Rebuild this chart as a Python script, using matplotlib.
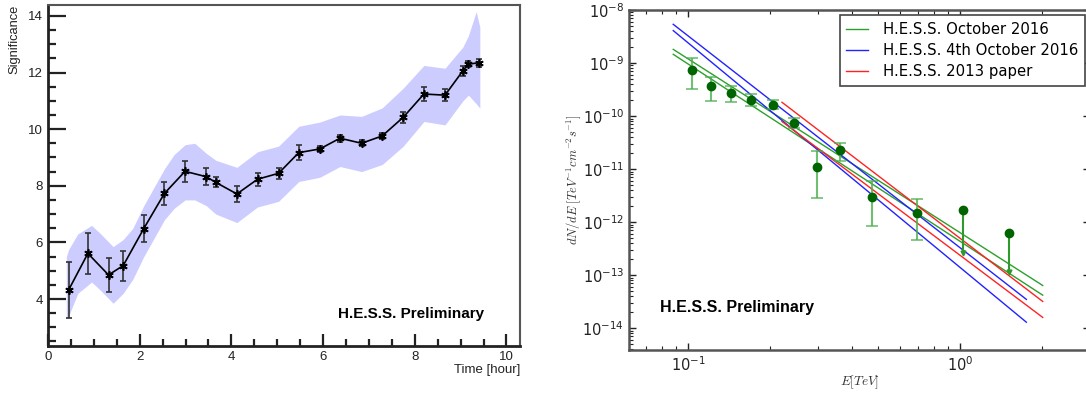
import matplotlib
matplotlib.use('Agg')
import matplotlib.pyplot as plt
from matplotlib.ticker import MultipleLocator, LogLocator, NullFormatter
import numpy as np

# ---- left panel: significance vs time ----
t_hour = [0.45, 0.87, 1.32, 1.64, 2.09, 2.54, 2.99, 3.45, 3.66, 4.12, 4.57, 5.03,
          5.47, 5.93, 6.37, 6.84, 7.29, 7.75, 8.20, 8.66, 9.05, 9.17, 9.40]
signif = [4.32, 5.61, 4.85, 5.18, 6.49, 7.73, 8.51, 8.32, 8.12, 7.71, 8.23, 8.44,
          9.17, 9.30, 9.68, 9.50, 9.76, 10.42, 11.24, 11.20, 12.06, 12.29, 12.35]
signif_err = [1.0, 0.73, 0.6, 0.53, 0.46, 0.42, 0.38, 0.29, 0.18, 0.29, 0.23, 0.2,
              0.26, 0.1, 0.12, 0.1, 0.12, 0.2, 0.25, 0.22, 0.18, 0.1, 0.14]

# shaded band edges
band_t = [0.40, 0.45, 0.65, 0.95, 1.15, 1.42, 1.64, 1.85, 2.09, 2.54, 2.75, 2.99, 3.2,
          3.45, 3.66, 4.12, 4.57, 5.03, 5.47, 5.93, 6.37, 6.84, 7.29, 7.75, 8.20,
          8.66, 9.05, 9.17, 9.34, 9.42]
band_hi = [5.5, 5.75, 6.3, 6.6, 6.3, 5.85, 6.1, 6.5, 7.3, 8.6, 9.1, 9.45, 9.5,
           9.15, 8.9, 8.65, 9.2, 9.4, 10.1, 10.25, 10.5, 10.45, 10.75, 11.45, 12.25,
           12.15, 12.9, 13.3, 14.15, 13.6]
band_lo = [3.3, 3.4, 4.2, 4.6, 4.3, 3.85, 4.2, 4.7, 5.5, 6.8, 7.2, 7.5, 7.5,
           7.3, 7.0, 6.7, 7.25, 7.45, 8.15, 8.3, 8.68, 8.5, 8.75, 9.4, 10.27,
           10.15, 11.0, 11.2, 10.9, 10.74]

# ---- right panel: spectrum ----
e_tev = [0.1028, 0.121, 0.143, 0.170, 0.204, 0.245, 0.296, 0.360, 0.474, 0.695]
flux = [7.4e-10, 3.75e-10, 2.77e-10, 2.04e-10, 1.64e-10, 7.3e-11, 1.1e-11, 2.27e-11, 3.03e-12, 1.47e-12]
flux_hi = [1.23e-9, 5.4e-10, 3.7e-10, 2.58e-10, 2.01e-10, 9.1e-11, 2.24e-11, 3.16e-11, 6.0e-12, 2.75e-12]
flux_lo = [3.2e-10, 1.93e-10, 1.87e-10, 1.55e-10, 1.34e-10, 5.9e-11, 2.83e-12, 1.44e-11, 8.5e-13, 4.6e-13]

ul_e = [1.023, 1.51]
ul_flux = [1.73e-12, 6.37e-13]
ul_lim = [2.6e-13, 1.17e-13]

# power-law fit lines: (E start, E end, F start, F end)
fit_lines = {
    'H.E.S.S. October 2016': ('#2ca02c', [(0.088, 2.01, 1.81e-9, 6.4e-14),
                                          (0.088, 2.01, 1.46e-9, 4.2e-14)]),
    'H.E.S.S. 4th October 2016': ('#2222ff', [(0.088, 1.75, 5.37e-9, 3.5e-14),
                                              (0.088, 1.75, 4.09e-9, 1.3e-14)]),
    'H.E.S.S. 2013 paper': ('#ff2222', [(0.221, 2.01, 1.82e-10, 3.2e-14),
                                        (0.221, 2.01, 7.9e-11, 1.6e-14)]),
}

flux_ticks = [1e-14, 1e-13, 1e-12, 1e-11, 1e-10, 1e-9, 1e-8]
energy_ticks = [0.1, 1.0]

fig = plt.figure(figsize=(10.86, 3.94), dpi=100)

# left
ax1 = fig.add_axes([0.0442, 0.1218, 0.4348, 0.8652])
ax1.fill_between(band_t, band_lo, band_hi, color='#ccccff', linewidth=0, zorder=1)
ax1.errorbar(t_hour, signif, yerr=signif_err, color='black', ecolor='#333333',
             elinewidth=1.2, capsize=2.5, capthick=1.2, marker=(6, 2, 0),
             markersize=6, markeredgewidth=1.2, linewidth=1.2, zorder=3)
ax1.set_xlim(0, 10.3)
ax1.set_ylim(2.34, 14.38)
ax1.xaxis.set_major_locator(MultipleLocator(2))
ax1.xaxis.set_minor_locator(MultipleLocator(0.5))
ax1.yaxis.set_major_locator(MultipleLocator(2))
ax1.yaxis.set_minor_locator(MultipleLocator(0.5))
ax1.tick_params(which='both', direction='in', labelsize=9.5, width=1.6, colors='#222222')
ax1.tick_params(axis='y', which='major', length=13)
ax1.tick_params(axis='y', which='minor', length=6)
ax1.tick_params(axis='x', which='major', length=9)
ax1.tick_params(axis='x', which='minor', length=5)
for s in ['left', 'bottom']:
    ax1.spines[s].set_linewidth(2)
    ax1.spines[s].set_color('#222222')
for s in ['top', 'right']:
    ax1.spines[s].set_linewidth(1.5)
    ax1.spines[s].set_color('#555555')
ax1.set_ylabel('Significance', fontsize=9.3, family='Liberation Sans', color='#222222')
ax1.yaxis.set_label_coords(-0.058, 1.0)
ax1.yaxis.label.set_horizontalalignment('right')
ax1.set_xlabel('Time [hour]', fontsize=9.5, family='Liberation Sans', color='#222222')
ax1.xaxis.set_label_coords(1.0, -0.052)
ax1.xaxis.label.set_horizontalalignment('right')
for lab in ax1.get_xticklabels() + ax1.get_yticklabels():
    lab.set_family('Liberation Sans')
ax1.text(0.924, 0.095, 'H.E.S.S. Preliminary', transform=ax1.transAxes, ha='right',
         va='center', fontsize=11, fontweight='bold', family='Liberation Sans')

# right
ax2 = fig.add_axes([0.5792, 0.1117, 0.4245, 0.8629])
ax2.set_xscale('log')
ax2.set_yscale('log')
for label, (col, lines) in fit_lines.items():
    for i, (e0, e1, f0, f1) in enumerate(lines):
        ax2.plot([e0, e1], [f0, f1], color=col, linewidth=1.0,
                 label=label if i == 0 else None, zorder=2)

yerr = [np.array(flux) - np.array(flux_lo), np.array(flux_hi) - np.array(flux)]
ax2.errorbar(e_tev, flux, yerr=yerr, fmt='none', ecolor='#4caf50', alpha=0.8,
             elinewidth=1.5, capsize=4, capthick=1.2, zorder=3)
ax2.plot(e_tev, flux, 'o', color='#006400', markersize=6, zorder=4)
for e, f, lim in zip(ul_e, ul_flux, ul_lim):
    ax2.plot([e, e], [f, lim], color='#2e9a2e', linewidth=1.5, zorder=3)
ax2.plot(ul_e, ul_lim, 'v', color='#2e9a2e', markersize=3.5, zorder=3)
ax2.plot(ul_e, ul_flux, 'o', color='#006400', markersize=6, zorder=4)

ax2.set_xlim(0.0605, 3.0)
ax2.set_ylim(10 ** -14.41, 1e-8)
ax2.set_yticks(flux_ticks)
ax2.set_xticks(energy_ticks)
ax2.yaxis.set_minor_locator(LogLocator(base=10, subs=np.arange(2, 10), numticks=20))
ax2.yaxis.set_minor_formatter(NullFormatter())
ax2.xaxis.set_minor_formatter(NullFormatter())
ax2.tick_params(which='both', direction='in', top=True, right=True, labelsize=10.5,
                colors='#222222')
ax2.tick_params(which='major', length=5, width=1)
ax2.tick_params(which='minor', length=3, width=0.8)
for s in ax2.spines.values():
    s.set_linewidth(1.8)
    s.set_color('#555555')
ax2.set_ylabel(r'$dN/dE\;[TeV^{-1}cm^{-2}s^{-1}]$', fontsize=9, math_fontfamily='cm',
               color='#333333')
ax2.yaxis.set_label_coords(-0.1, 0.5)
ax2.set_xlabel(r'$E[TeV]$', fontsize=9.5, math_fontfamily='cm', color='#333333')
ax2.xaxis.set_label_coords(0.501, -0.07)
ax2.text(0.067, 0.124, 'H.E.S.S. Preliminary', transform=ax2.transAxes, ha='left',
         va='center', fontsize=11.5, fontweight='bold', family='Liberation Sans')
leg = ax2.legend(loc='upper right', fontsize=10.7, fancybox=False, framealpha=1,
                 handlelength=1.45, borderaxespad=0.35, borderpad=0.45,
                 labelspacing=0.42, handletextpad=1.0)
leg.get_frame().set_edgecolor('#444444')
leg.get_frame().set_linewidth(1.2)

fig.savefig('out.png', dpi=100)
